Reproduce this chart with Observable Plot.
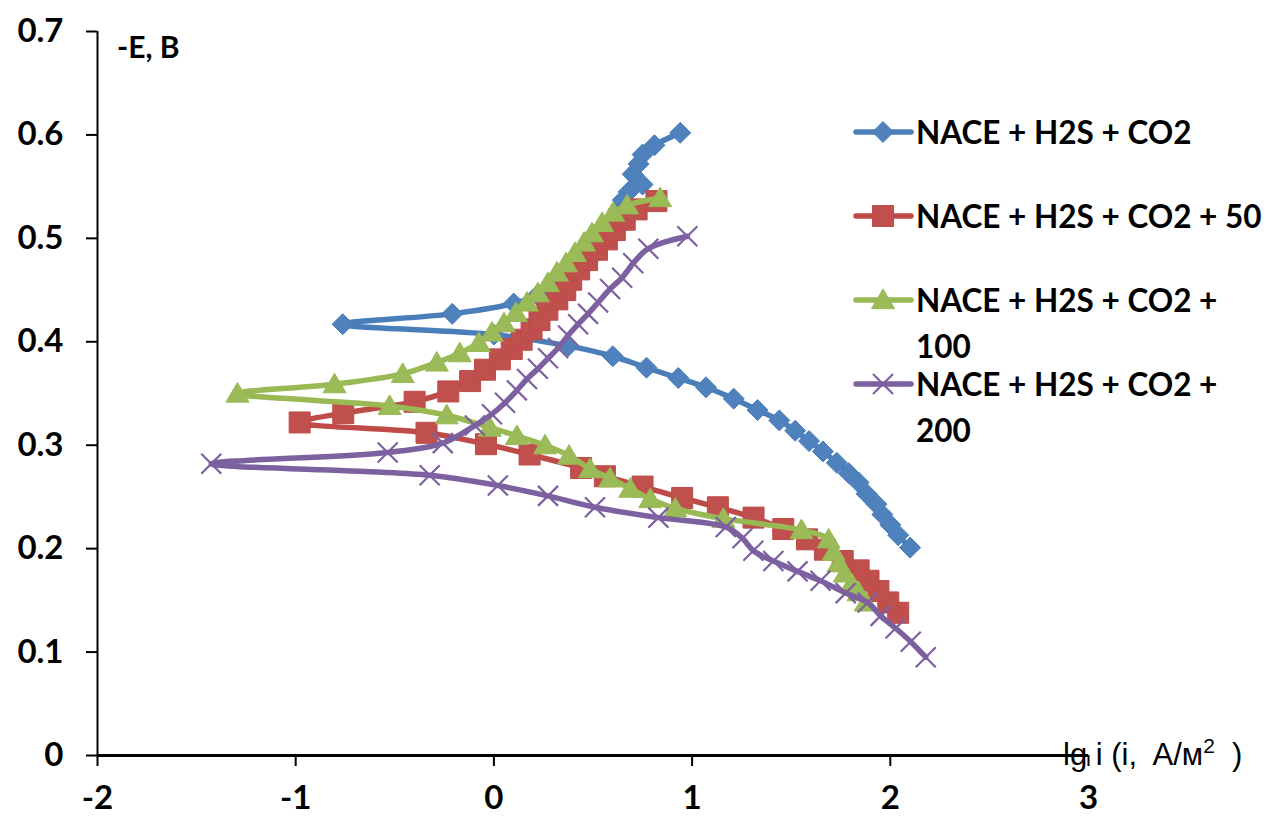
<!DOCTYPE html>
<html>
<head>
<meta charset="utf-8">
<script src="https://cdn.jsdelivr.net/npm/d3@7"></script>
<script src="https://cdn.jsdelivr.net/npm/@observablehq/plot@0.6"></script>
<style>
  html, body { margin: 0; padding: 0; background: #fff; }
  svg { display: block; }
</style>
</head>
<body>
<div id="chart"></div>
<script>
// ---- Data (lg i vs -E), each curve ordered from bottom of cathodic branch through the minimum to top of anodic branch
const seriesNames = ["NACE + H2S + CO2", "NACE + H2S + CO2 + 50", "NACE + H2S + CO2 + 100", "NACE + H2S + CO2 + 200"];
const legendLines = [["NACE + H2S + CO2"], ["NACE + H2S + CO2 + 50"], ["NACE + H2S + CO2 +", "100"], ["NACE + H2S + CO2 +", "200"]];

const blueLg = [2.10, 2.04, 2.00, 1.96, 1.93, 1.88, 1.84, 1.79, 1.73, 1.66, 1.59, 1.52, 1.44, 1.33, 1.21, 1.07, 0.93, 0.77, 0.60, 0.375, 0.0, -0.763,
  -0.21, 0.10, 0.22, 0.30, 0.36, 0.42, 0.47, 0.51, 0.54, 0.57, 0.59, 0.61, 0.63, 0.65, 0.68, 0.75, 0.70, 0.73, 0.75, 0.81, 0.94];
const blueE = [0.201, 0.213, 0.223, 0.233, 0.243, 0.253, 0.264, 0.273, 0.283, 0.294, 0.304, 0.314, 0.324, 0.334, 0.345, 0.356, 0.365, 0.375, 0.386, 0.396, 0.407, 0.417,
  0.427, 0.437, 0.445, 0.452, 0.460, 0.468, 0.476, 0.485, 0.493, 0.502, 0.510, 0.519, 0.528, 0.537, 0.545, 0.552, 0.562, 0.572, 0.581, 0.590, 0.602];

const redLg = [2.04, 1.99, 1.94, 1.89, 1.84, 1.76, 1.67, 1.58, 1.46, 1.31, 1.13, 0.95, 0.75, 0.56, 0.44, 0.18, -0.04, -0.34, -0.98,
  -0.76, -0.40, -0.23, -0.12, -0.045, 0.03, 0.09, 0.14, 0.19, 0.23, 0.27, 0.32, 0.36, 0.39, 0.43, 0.47, 0.52, 0.57, 0.61, 0.66, 0.72, 0.82];
const redE = [0.138, 0.148, 0.159, 0.169, 0.179, 0.188, 0.199, 0.209, 0.219, 0.230, 0.240, 0.249, 0.260, 0.270, 0.278, 0.291, 0.301, 0.312, 0.322,
  0.331, 0.342, 0.352, 0.362, 0.373, 0.383, 0.393, 0.402, 0.412, 0.421, 0.431, 0.441, 0.450, 0.460, 0.470, 0.479, 0.489, 0.499, 0.508, 0.518, 0.528, 0.536];

const greenLg = [1.876, 1.84, 1.805, 1.77, 1.739, 1.714, 1.689, 1.552, 1.158, 0.915, 0.789, 0.688, 0.586, 0.485, 0.379, 0.258, 0.116, -0.02, -0.238, -0.526, -1.294,
  -0.804, -0.46, -0.288, -0.172, -0.076, -0.01, 0.051, 0.111, 0.167, 0.222, 0.273, 0.318, 0.364, 0.409, 0.455, 0.495, 0.546, 0.602, 0.672, 0.839];
const greenE = [0.148, 0.158, 0.166, 0.176, 0.186, 0.197, 0.209, 0.218, 0.229, 0.239, 0.248, 0.258, 0.268, 0.277, 0.290, 0.300, 0.309, 0.317, 0.329, 0.338, 0.350,
  0.359, 0.369, 0.380, 0.389, 0.399, 0.409, 0.418, 0.428, 0.438, 0.447, 0.457, 0.467, 0.476, 0.486, 0.496, 0.505, 0.515, 0.525, 0.532, 0.539];

const purpleLg = [2.179, 2.103, 2.027, 1.951, 1.886, 1.775, 1.648, 1.532, 1.41, 1.309, 1.254, 1.17, 0.83, 0.51, 0.273, 0.02, -0.324, -1.426,
  -0.536, -0.258, -0.096, -0.01, 0.056, 0.116, 0.167, 0.222, 0.273, 0.324, 0.374, 0.425, 0.475, 0.526, 0.586, 0.647, 0.703, 0.779, 0.976];
const purpleE = [0.095, 0.110, 0.123, 0.135, 0.148, 0.157, 0.169, 0.178, 0.188, 0.198, 0.210, 0.221, 0.230, 0.240, 0.251, 0.261, 0.271, 0.282,
  0.293, 0.302, 0.319, 0.330, 0.341, 0.353, 0.364, 0.374, 0.384, 0.394, 0.406, 0.417, 0.427, 0.438, 0.451, 0.462, 0.476, 0.490, 0.502];

const xTicks = [-2, -1, 0, 1, 2, 3];
const xTickLabels = ["-2", "-1", "0", "1", "2", "3"];
const yTicks = [0, 0.1, 0.2, 0.3, 0.4, 0.5, 0.6, 0.7];
const yTickLabels = ["0", "0.1", "0.2", "0.3", "0.4", "0.5", "0.6", "0.7"];

const lineColors = ["#4A7EBB", "#BE4B48", "#98B954", "#7D60A0"];
const fillColors = ["#4F81BD", "#C0504D", "#9BBB59", "#8064A2"];

// ---- symbols (size = PI r^2, so r = half-size)
const half = size => Math.sqrt(size / Math.PI);
const diamondSym = {draw(c, s) { const h = half(s); c.moveTo(0, -h); c.lineTo(h, 0); c.lineTo(0, h); c.lineTo(-h, 0); c.closePath(); }};
const squareSym = {draw(c, s) { const h = half(s); c.rect(-h, -h, 2 * h, 2 * h); }};
const triangleSym = {draw(c, s) { const h = half(s); c.moveTo(0, -h * 0.95); c.lineTo(h, h * 0.75); c.lineTo(-h, h * 0.75); c.closePath(); }};
const timesSym = {draw(c, s) { const h = half(s); c.moveTo(-h, -h); c.lineTo(h, h); c.moveTo(-h, h); c.lineTo(h, -h); }};

const series = [
  {lg: blueLg, E: blueE, symbol: diamondSym, r: 10.5, stroke: true},
  {lg: redLg, E: redE, symbol: squareSym, r: 10.5, stroke: true},
  {lg: greenLg, E: greenE, symbol: triangleSym, r: 11.5, stroke: true},
  {lg: purpleLg, E: purpleE, symbol: timesSym, r: 10, stroke: false}
];

const marks = [];
series.forEach((s, k) => {
  const rows = s.lg.map((x, i) => ({lg: x, E: s.E[i], name: seriesNames[k]}));
  marks.push(Plot.line(rows, {x: "lg", y: "E", stroke: lineColors[k], strokeWidth: 5.5, curve: "catmull-rom", strokeLinejoin: "round", strokeLinecap: "round"}));
  if (s.stroke) {
    marks.push(Plot.dot(rows, {x: "lg", y: "E", symbol: s.symbol, r: s.r, fill: fillColors[k], stroke: lineColors[k], strokeWidth: 1}));
  } else {
    marks.push(Plot.dot(rows, {x: "lg", y: "E", symbol: s.symbol, r: s.r, fill: "none", stroke: lineColors[k], strokeWidth: 2.2}));
  }
});

const chart = Plot.plot({
  width: 1270,
  height: 827,
  marginLeft: 97,
  marginRight: 182,
  marginTop: 31,
  marginBottom: 72,
  style: {fontFamily: "Lato, 'DejaVu Sans', sans-serif", background: "#fff", color: "#000"},
  x: {domain: [-2, 3]},
  y: {domain: [0, 0.7]},
  marks: [
    Plot.axisY(yTicks, {tickSize: 11, tickPadding: 23, fontSize: 33, fontWeight: "bold", strokeWidth: 2, tickFormat: (d, i) => yTickLabels[i], label: null}),
    Plot.axisX(xTicks, {tickSize: 11, tickPadding: 19, fontSize: 33, fontWeight: "bold", strokeWidth: 2, tickFormat: (d, i) => xTickLabels[i], label: null}),
    Plot.ruleX([-2], {y1: 0, y2: 0.7, stroke: "#000", strokeWidth: 2}),
    Plot.ruleY([0], {x1: -2, x2: 3, stroke: "#000", strokeWidth: 3}),
    ...marks
  ]
});
document.getElementById("chart").appendChild(chart);

// ---- annotations & legend
const svg = d3.select(chart);
const xs = chart.scale("x"), ys = chart.scale("y");

svg.append("text")
  .attr("x", xs.apply(-2) + 20).attr("y", ys.apply(0.7) + 15)
  .attr("text-anchor", "start")
  .attr("dominant-baseline", "central")
  .attr("font-family", "Lato, sans-serif").attr("font-weight", "bold").attr("font-size", 30)
  .text("-E, B");

const xl = svg.append("text")
  .attr("x", xs.apply(3) - 25).attr("y", ys.apply(0) + 10)
  .attr("text-anchor", "start")
  .attr("font-family", "'Liberation Sans Narrow', 'Arial Narrow', 'Liberation Sans', sans-serif")
  .attr("font-size", 31).attr("fill", "#000");
xl.append("tspan").text("lg i (i,  A/м");
xl.append("tspan").attr("font-size", 21).attr("dy", -12).text("2");
xl.append("tspan").attr("dy", 12).text("  )");

const legendY = [132, 216, 300, 384];
const lg = svg.append("g").attr("text-anchor", "start");
legendLines.forEach((lines, k) => {
  const y = legendY[k];
  lg.append("line").attr("x1", 856).attr("x2", 911).attr("y1", y).attr("y2", y)
    .attr("stroke", lineColors[k]).attr("stroke-width", 5.5).attr("stroke-linecap", "round");
  const p = d3.path();
  series[k].symbol.draw(p, Math.PI * series[k].r * series[k].r);
  lg.append("path").attr("d", p.toString()).attr("transform", `translate(883,${y})`)
    .attr("fill", series[k].stroke ? fillColors[k] : "none")
    .attr("stroke", lineColors[k]).attr("stroke-width", series[k].stroke ? 1 : 2.2);
  lines.forEach((t, j) => {
    lg.append("text").attr("x", 916).attr("y", y + j * 46)
      .attr("text-anchor", "start")
      .attr("dominant-baseline", "central")
      .attr("font-family", "Lato, sans-serif").attr("font-weight", "bold").attr("font-size", 31.5)
      .text(t);
  });
});
</script>
</body>
</html>
